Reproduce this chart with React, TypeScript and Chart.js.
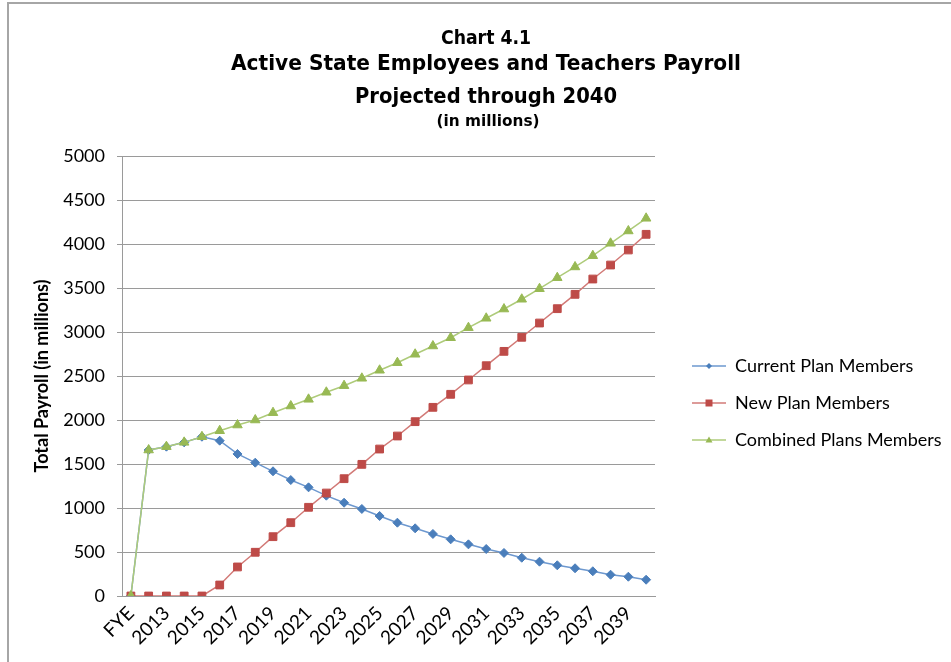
import React, { useEffect, useRef } from "react";
import { Chart, registerables } from "chart.js";

Chart.register(...registerables);

const categories = [
  "FYE", "2012", "2013", "2014", "2015", "2016", "2017", "2018", "2019", "2020",
  "2021", "2022", "2023", "2024", "2025", "2026", "2027", "2028", "2029", "2030",
  "2031", "2032", "2033", "2034", "2035", "2036", "2037", "2038", "2039", "2040",
];

const currentPlan = [
  0, 1659, 1697, 1746, 1810, 1765, 1614, 1515, 1417, 1318,
  1235, 1140, 1060, 989, 909, 833, 769, 705, 644, 587,
  534, 489, 435, 390, 349, 315, 281, 242, 219, 185,
];

const newPlan = [
  0, 0, 0, 0, 0, 125, 330, 497, 674, 833,
  1008, 1170, 1333, 1496, 1670, 1818, 1981, 2144, 2292, 2455,
  2617, 2780, 2940, 3102, 3265, 3428, 3602, 3761, 3932, 4110,
];

const combinedPlans = [
  0, 1659, 1697, 1746, 1810, 1878, 1943, 2000, 2083, 2159,
  2235, 2315, 2390, 2474, 2565, 2651, 2747, 2841, 2935, 3049,
  3156, 3261, 3372, 3492, 3617, 3739, 3867, 4008, 4148, 4292,
];

const seriesNames = ["Current Plan Members", "New Plan Members", "Combined Plans Members"];
const titleLines = [
  "Chart 4.1",
  "Active State Employees and Teachers Payroll",
  "Projected through 2040",
  "(in millions)",
];
const yAxisTitle = "Total Payroll (in millions)";

const BLUE = "#4A7EBB";
const RED = "#BE4B48";
const GREEN = "#98B954";
const BLUE_LINE = "#6d98cf";
const RED_LINE = "#d27a77";
const GREEN_LINE = "#aecb7a";
const GRID = "#9a9a9a";
const FONT = "Lato, 'Open Sans', sans-serif";

function legendIcon(line: string, color: string, shape: string): HTMLCanvasElement {
  const c = document.createElement("canvas");
  c.width = 34;
  c.height = 12;
  const ctx = c.getContext("2d")!;
  ctx.strokeStyle = line;
  ctx.lineWidth = 1.5;
  ctx.beginPath();
  ctx.moveTo(0, 6);
  ctx.lineTo(34, 6);
  ctx.stroke();
  ctx.fillStyle = color;
  ctx.beginPath();
  if (shape === "diamond") {
    ctx.moveTo(17, 3);
    ctx.lineTo(20, 6);
    ctx.lineTo(17, 9);
    ctx.lineTo(14, 6);
  } else if (shape === "square") {
    ctx.rect(13.5, 2.5, 7, 7);
  } else {
    ctx.moveTo(17, 2.5);
    ctx.lineTo(20.5, 8.5);
    ctx.lineTo(13.5, 8.5);
  }
  ctx.closePath();
  ctx.fill();
  return c;
}

const titlePlugin = {
  id: "stackedTitle",
  afterDraw(chart: any) {
    const ctx = chart.ctx as CanvasRenderingContext2D;
    const specs = [
      { size: 19, y: 44, w: 90, cx: 486 },
      { size: 21, y: 70, w: 510, cx: 486 },
      { size: 21, y: 103, w: 262, cx: 486 },
      { size: 15, y: 126, w: 103, cx: 488 },
    ];
    ctx.save();
    ctx.fillStyle = "#000";
    ctx.textBaseline = "alphabetic";
    ctx.textAlign = "center";
    specs.forEach((s, i) => {
      ctx.font = `bold ${s.size}px 'DejaVu Sans', sans-serif`;
      const text = titleLines[i];
      const mw = ctx.measureText(text).width;
      ctx.save();
      ctx.translate(s.cx, s.y);
      ctx.scale(s.w / mw, 1);
      ctx.fillText(text, 0, 0);
      ctx.restore();
    });
    ctx.restore();
  },
};

// Give the right-hand legend a fixed width and offset its items from the plot.
const legendPlacePlugin = {
  id: "legendPlace",
  beforeLayout(chart: any) {
    const lg = chart.legend;
    if (lg && !lg.__patched) {
      const orig = lg.fit.bind(lg);
      lg.fit = function () {
        orig();
        this.width = 296;
      };
      lg.__patched = true;
    }
  },
  afterLayout(chart: any) {
    const lg = chart.legend;
    if (lg) {
      lg.left = 673;
      lg.top = 144;
    }
  },
};

export default function App() {
  const ref = useRef<HTMLCanvasElement | null>(null);

  useEffect(() => {
    if (!ref.current) return;
    const icons = [
      legendIcon(BLUE_LINE, BLUE, "diamond"),
      legendIcon(RED_LINE, RED, "square"),
      legendIcon(GREEN_LINE, GREEN, "triangle"),
    ];
    const chart = new Chart(ref.current, {
      type: "line",
      data: {
        labels: categories,
        datasets: [
          {
            label: seriesNames[0],
            data: currentPlan,
            borderColor: BLUE_LINE,
            backgroundColor: BLUE,
            pointBackgroundColor: BLUE,
            pointBorderColor: BLUE,
            borderWidth: 1.5,
            pointStyle: "rectRot",
            pointRadius: 4.5,
            pointBorderWidth: 1,
            order: 2,
          },
          {
            label: seriesNames[1],
            data: newPlan,
            borderColor: RED_LINE,
            backgroundColor: RED,
            pointBackgroundColor: RED,
            pointBorderColor: RED,
            borderWidth: 1.5,
            pointStyle: "rect",
            pointRadius: 5.5,
            pointBorderWidth: 1,
            order: 1,
          },
          {
            label: seriesNames[2],
            data: combinedPlans,
            borderColor: GREEN_LINE,
            backgroundColor: GREEN,
            pointBackgroundColor: GREEN,
            pointBorderColor: GREEN,
            borderWidth: 1.5,
            pointStyle: "triangle",
            pointRadius: 5.5,
            pointBorderWidth: 1,
            order: 0,
          },
        ],
      },
      options: {
        responsive: false,
        animation: false,
        layout: { padding: { top: 156, left: 0, right: 0, bottom: 0 } },
        plugins: {
          title: { display: false },
          tooltip: { enabled: false },
          legend: {
            display: true,
            position: "right",
            align: "center",
            labels: {
              usePointStyle: true,
              pointStyleWidth: 34,
              boxHeight: 12,
              padding: 19,
              color: "#000",
              font: { family: FONT, size: 18 },
              generateLabels: (ch: any) =>
                ch.data.datasets.map((ds: any, i: number) => ({
                  text: ds.label,
                  pointStyle: icons[i],
                  fillStyle: ds.backgroundColor,
                  strokeStyle: ds.borderColor,
                  lineWidth: 0,
                  hidden: false,
                  datasetIndex: i,
                  fontColor: "#000",
                })),
            },
          },
        },
        scales: {
          x: {
            offset: true,
            grid: { display: false, drawTicks: false },
            border: { display: true, color: GRID, width: 1 },
            ticks: {
              autoSkip: false,
              maxRotation: 45,
              minRotation: 45,
              padding: 6,
              color: "#000",
              font: { family: FONT, size: 19 },
              callback: (_v: any, i: number) => (i % 2 === 0 ? categories[i] : ""),
            },
            afterFit: (s: any) => {
              s.height = 66;
            },
          },
          y: {
            min: 0,
            max: 5000,
            grid: { color: GRID, lineWidth: 1, tickLength: 5 },
            border: { display: true, color: GRID, width: 1 },
            ticks: {
              stepSize: 500,
              padding: 12,
              color: "#000",
              font: { family: FONT, size: 18 },
              callback: (v: any) => String(v),
            },
            title: {
              display: true,
              text: yAxisTitle,
              color: "#000",
              font: { family: FONT, size: 18, weight: "bold" },
              padding: { top: 31, bottom: 0 },
            },
            afterFit: (s: any) => {
              s.width = 122;
            },
          },
        },
      },
      plugins: [titlePlugin, legendPlacePlugin],
    } as any);
    return () => chart.destroy();
  }, []);

  return (
    <div style={{ position: "fixed", left: 0, top: 0, width: 951, height: 662, overflow: "hidden", background: "#fff" }}>
      <div
        style={{
          position: "absolute",
          left: 7,
          top: 2,
          width: 1000,
          height: 700,
          borderLeft: "2px solid #a6a6a6",
          borderTop: "2px solid #a6a6a6",
        }}
      />
      <canvas
        ref={ref}
        width={951}
        height={662}
        style={{ position: "absolute", left: 0, top: 0, width: 951, height: 662 }}
      />
    </div>
  );
}
